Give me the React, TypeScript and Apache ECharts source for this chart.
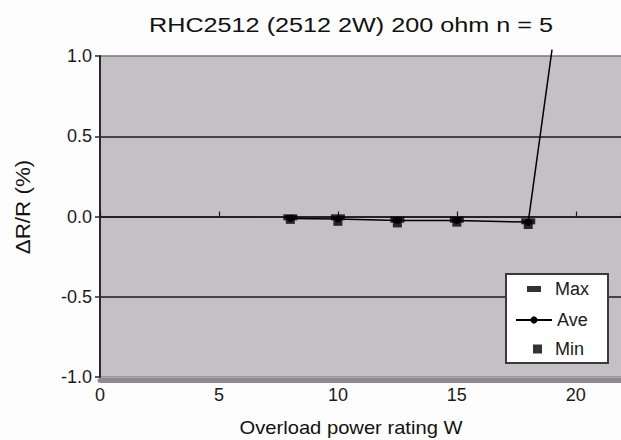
import { useEffect, useRef } from "react";
import * as echarts from "echarts";

const FONT = '"Liberation Sans", Arial, Helvetica, sans-serif';

const titleText = "RHC2512 (2512 2W) 200 ohm n = 5";
const xName = "Overload power rating W";
const yName = "ΔR/R (%)";

// Overload power (W)
const powerW = [8, 10, 12.5, 15, 18];
// ΔR/R (%) readings
const maxVals = [-0.005, -0.005, -0.02, -0.02, -0.03];
const aveVals = [-0.012, -0.015, -0.025, -0.025, -0.035];
const minVals = [-0.018, -0.03, -0.04, -0.035, -0.05];
// visible end of the Ave line after it leaves the scale
const aveTail = [19.0, 1.04];

const xMin = 0;
const xMax = 21.9;
const xStep = 5;
const yMin = -1;
const yMax = 1;
const yStep = 0.5;

export default function App() {
  const ref = useRef<HTMLDivElement>(null);

  useEffect(() => {
    if (!ref.current) return;
    const chart = echarts.init(ref.current, null, { renderer: "svg" });

    const aveData: any[] = powerW.map((x, i) => [x, aveVals[i]]);
    aveData.push({ value: aveTail, symbol: "none" });

    chart.setOption({
      animation: false,
      backgroundColor: "#fdfdfd",
      grid: {
        left: 100,
        right: 0,
        top: 56,
        bottom: 63,
        show: true,
        backgroundColor: "#c4c0c6",
        borderWidth: 0,
      },
      xAxis: [
        {
          type: "value",
          min: xMin,
          max: xMax,
          interval: xStep,
          position: "bottom",
          offset: 3,
          axisLine: { show: true, onZero: false, lineStyle: { color: "#8e8b8f", width: 5 } },
          axisTick: { show: false },
          splitLine: { show: false },
          axisLabel: {
            showMaxLabel: false,
            margin: 6,
            fontSize: 18,
            fontFamily: FONT,
            color: "#1a1a1a",
          },
        },
        {
          type: "value",
          min: xMin,
          max: xMax,
          interval: xStep,
          position: "top",
          axisLine: { show: true, onZero: true, lineStyle: { color: "#1a1a1a", width: 1.5 } },
          axisTick: { show: true, inside: false, length: 5, lineStyle: { color: "#1a1a1a", width: 1.2 } },
          axisLabel: { show: false },
          splitLine: { show: false },
        },
      ],
      yAxis: {
        type: "value",
        min: yMin,
        max: yMax,
        interval: yStep,
        axisLine: { show: true, onZero: false, lineStyle: { color: "#2a2a2a", width: 2 } },
        axisTick: { show: true, inside: false, length: 5, lineStyle: { color: "#2a2a2a", width: 1.5 } },
        axisLabel: {
          margin: 8,
          fontSize: 18,
          fontFamily: FONT,
          color: "#1a1a1a",
          formatter: (v: number) => v.toFixed(1),
        },
        splitLine: {
          show: true,
          lineStyle: {
            color: ["#8e8b8f", "#1a1a1a", "#1a1a1a", "#1a1a1a", "#7a777b"],
            width: 1.5,
          },
        },
      },
      legend: [
        {
          data: [{ name: "Max", icon: "rect" }],
          left: 527,
          top: 280,
          orient: "vertical",
          padding: 0,
          itemWidth: 14,
          itemHeight: 6,
          selectedMode: false,
          textStyle: { fontSize: 18, lineHeight: 18, fontFamily: FONT, color: "#1a1a1a", padding: [0, 0, 0, 9] },
        },
        {
          data: ["Ave"],
          left: 515,
          top: 311,
          orient: "vertical",
          padding: 0,
          itemWidth: 36,
          itemHeight: 9,
          selectedMode: false,
          textStyle: { fontSize: 18, lineHeight: 18, fontFamily: FONT, color: "#1a1a1a" },
        },
        {
          data: [{ name: "Min", icon: "rect" }],
          left: 533,
          top: 340,
          orient: "vertical",
          padding: 0,
          itemWidth: 9,
          itemHeight: 9,
          selectedMode: false,
          textStyle: { fontSize: 18, lineHeight: 18, fontFamily: FONT, color: "#1a1a1a", padding: [0, 0, 0, 8] },
        },
      ],
      graphic: [
        {
          type: "rect",
          z: 3,
          shape: { x: 506, y: 274, width: 102, height: 89 },
          style: { fill: "#ffffff", stroke: "#3a3a3a", lineWidth: 2 },
        },
        {
          type: "text",
          x: 351,
          y: 25,
          scaleX: 1.2,
          style: {
            text: titleText,
            font: `normal 21px ${FONT}`,
            fill: "#111111",
            align: "center",
            verticalAlign: "middle",
          },
        },
        {
          type: "text",
          x: 351,
          y: 428,
          scaleX: 1.12,
          style: {
            text: xName,
            font: `normal 18px ${FONT}`,
            fill: "#111111",
            align: "center",
            verticalAlign: "middle",
          },
        },
        {
          type: "text",
          x: 23,
          y: 207,
          rotation: Math.PI / 2,
          scaleX: 1.12,
          style: {
            text: yName,
            font: `normal 20px ${FONT}`,
            fill: "#111111",
            align: "center",
            verticalAlign: "middle",
          },
        },
      ],
      series: [
        {
          name: "Ave",
          type: "line",
          xAxisIndex: 0,
          data: aveData,
          clip: false,
          symbol: "circle",
          symbolSize: 7,
          itemStyle: { color: "#000000" },
          lineStyle: { color: "#000000", width: 1.5 },
          z: 2,
        },
        {
          name: "Max",
          type: "scatter",
          xAxisIndex: 0,
          data: powerW.map((x, i) => [x, maxVals[i]]),
          symbol: "rect",
          symbolSize: [14, 6],
          itemStyle: { color: "#000000" },
          z: 2,
        },
        {
          name: "Min",
          type: "scatter",
          xAxisIndex: 0,
          data: powerW.map((x, i) => [x, minVals[i]]),
          symbol: "rect",
          symbolSize: [9, 9],
          itemStyle: { color: "#000000" },
          z: 2,
        },
      ],
    });

    return () => chart.dispose();
  }, []);

  return (
    <div
      ref={ref}
      style={{ position: "fixed", left: 0, top: 0, width: 621, height: 440 }}
    />
  );
}
